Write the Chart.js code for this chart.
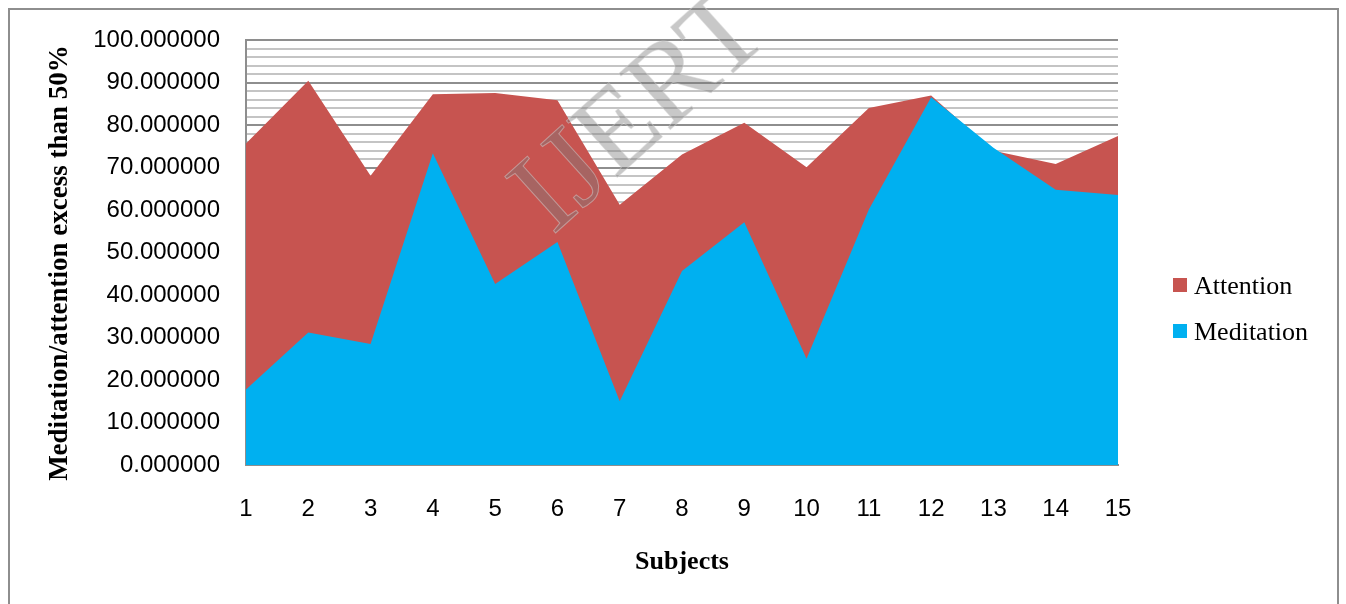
<!DOCTYPE html>
<html>
<head>
<meta charset="utf-8">
<title>Meditation and attention by subject</title>
<script src="https://cdn.jsdelivr.net/npm/chart.js@4.4.1/dist/chart.umd.min.js"></script>
<style>
  html, body { margin: 0; padding: 0; background: #ffffff; }
  #wrap { width: 1346px; height: 604px; }
</style>
</head>
<body>
<div id="wrap"><canvas id="chart" width="1346" height="604"></canvas></div>
<script>
// Subjects on the horizontal axis
const subjects = ['1', '2', '3', '4', '5', '6', '7', '8', '9', '10', '11', '12', '13', '14', '15'];

// Percentage of samples above 50% for each subject
const attention  = [75.7, 90.5, 68.1, 87.3, 87.6, 85.9, 61.3, 73.1, 80.6, 70.1, 84.1, 87.0, 74.0, 70.9, 77.5];
const meditation = [17.8, 31.2, 28.5, 73.4, 42.6, 52.5, 15.0, 45.7, 57.2, 25.0, 60.2, 86.6, 74.7, 64.8, 63.6];

const seriesNames = ['Attention', 'Meditation'];
const seriesColors = ['#C75450', '#00B0F0'];
const yTitle = 'Meditation/attention excess than 50%';

const sansFont = '"Liberation Sans", Arial, sans-serif';
const serifFont = '"Liberation Serif", "Times New Roman", serif';

// Outer frame around the whole figure
const framePlugin = {
  id: 'frame',
  beforeDraw(chart) {
    const ctx = chart.ctx;
    ctx.save();
    ctx.fillStyle = '#ffffff';
    ctx.fillRect(0, 0, chart.width, chart.height);
    ctx.strokeStyle = '#8e8e8e';
    ctx.lineWidth = 2;
    ctx.strokeRect(9, 9, 1329, 620);
    ctx.restore();
  }
};

// Vertical axis title, rotated, set slightly below the plot's middle
const yTitlePlugin = {
  id: 'yTitle',
  afterDraw(chart) {
    const ctx = chart.ctx;
    ctx.save();
    ctx.translate(60, 263);
    ctx.rotate(-Math.PI / 2);
    ctx.font = 'bold 27px ' + serifFont;
    ctx.textAlign = 'center';
    ctx.textBaseline = 'middle';
    ctx.fillStyle = '#000000';
    ctx.fillText(yTitle, 0, 0);
    ctx.restore();
  }
};

// Faint publisher mark across the plot
const markPlugin = {
  id: 'mark',
  afterDatasetsDraw(chart) {
    const ctx = chart.ctx;
    ctx.save();
    ctx.translate(642, 114);
    ctx.rotate(-42 * Math.PI / 180);
    ctx.font = '116px ' + serifFont;
    ctx.textAlign = 'center';
    ctx.textBaseline = 'middle';
    ctx.fillStyle = 'rgba(125,125,125,0.42)';
    ctx.fillText('IJERT', 0, 0);
    ctx.strokeStyle = 'rgba(210,210,210,0.5)';
    ctx.lineWidth = 1;
    ctx.strokeText('IJERT', 0, 0);
    ctx.restore();
  }
};

// Legend to the right of the plot: swatch + serif label
const sideLegend = {
  id: 'sideLegend',
  afterDraw(chart) {
    const ctx = chart.ctx;
    const x = 1173, y0 = 285, gap = 46, box = 14;
    ctx.save();
    ctx.font = '26px ' + serifFont;
    ctx.textBaseline = 'middle';
    ctx.textAlign = 'left';
    chart.data.datasets.forEach((ds, i) => {
      const y = y0 + i * gap;
      ctx.fillStyle = ds.backgroundColor;
      ctx.fillRect(x, y - box / 2, box, box);
      ctx.fillStyle = '#000000';
      ctx.fillText(ds.label, x + 21, y + 2);
    });
    ctx.restore();
  }
};

new Chart(document.getElementById('chart'), {
  type: 'line',
  data: {
    labels: subjects,
    datasets: [
      {
        label: seriesNames[0],
        data: attention,
        backgroundColor: seriesColors[0],
        borderColor: 'rgba(0,0,0,0)',
        borderWidth: 0,
        pointRadius: 0,
        fill: 'origin',
        tension: 0,
        order: 2
      },
      {
        label: seriesNames[1],
        data: meditation,
        backgroundColor: seriesColors[1],
        borderColor: 'rgba(0,0,0,0)',
        borderWidth: 0,
        pointRadius: 0,
        fill: 'origin',
        tension: 0,
        order: 1
      }
    ]
  },
  options: {
    responsive: false,
    animation: false,
    devicePixelRatio: 1,
    layout: { padding: { left: 44, top: 38, right: 228, bottom: 0 } },
    plugins: {
      legend: { display: false },
      tooltip: { enabled: false }
    },
    scales: {
      x: {
        type: 'category',
        offset: false,
        afterFit(scale) { scale.height = 139; },
        grid: { display: false, drawTicks: false },
        border: { display: true, color: '#8e8e8e', width: 2 },
        ticks: {
          color: '#000000',
          padding: 30,
          maxRotation: 0,
          autoSkip: false,
          font: { family: sansFont, size: 24 }
        },
        title: {
          display: true,
          text: 'Subjects',
          color: '#000000',
          padding: { top: 0, bottom: 26 },
          font: { family: serifFont, size: 26, weight: 'bold' }
        }
      },
      y: {
        min: 0,
        max: 100,
        afterFit(scale) { scale.width = 202; },
        grid: {
          drawTicks: false,
          lineWidth: 2,
          color: (c) => (c.tick && c.tick.value % 10 === 0) ? '#8e8e8e' : '#c4c4c4'
        },
        border: { display: true, color: '#8e8e8e', width: 2 },
        ticks: {
          stepSize: 2,
          autoSkip: false,
          color: '#000000',
          padding: 26,
          font: { family: sansFont, size: 24 },
          callback: (v) => (v % 10 === 0) ? Number(v).toFixed(6) : ''
        }
      }
    }
  },
  plugins: [framePlugin, yTitlePlugin, markPlugin, sideLegend]
});
</script>
</body>
</html>
